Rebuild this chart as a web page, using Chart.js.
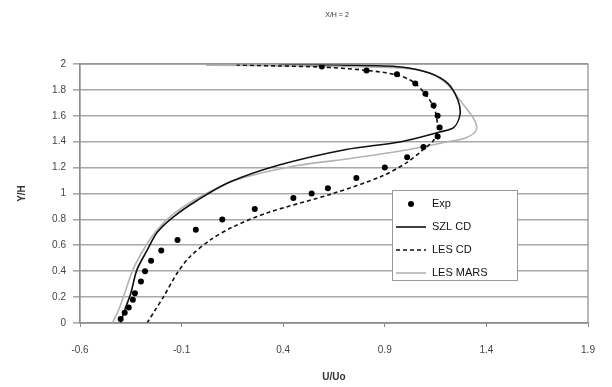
<!DOCTYPE html>
<html><head><meta charset="utf-8">
<script src="https://cdn.jsdelivr.net/npm/chart.js@4/dist/chart.umd.min.js"></script>
<style>html,body{margin:0;padding:0;background:#fff}#wrap{width:612px;height:387px}</style>
</head><body><div id="wrap"><canvas id="c" width="612" height="387"></canvas></div>
<script>
const chartTitle = "X/H = 2";
const xTitle = "U/Uo";
const yTitle = "Y/H";
const seriesNames = ["Exp", "SZL CD", "LES CD", "LES MARS"];

const expX = [-0.40,-0.38,-0.36,-0.34,-0.33,-0.30,-0.28,-0.25,-0.20,-0.12,-0.03,0.10,0.26,0.45,0.54,0.62,0.76,0.90,1.01,1.09,1.16,1.17,1.16,1.14,1.10,1.05,0.96,0.81,0.59];
const expY = [0.03,0.08,0.12,0.18,0.23,0.32,0.40,0.48,0.56,0.64,0.72,0.80,0.88,0.965,1.00,1.04,1.12,1.20,1.28,1.36,1.44,1.51,1.60,1.68,1.77,1.85,1.92,1.95,1.98];

const szlX = [-0.40,-0.38,-0.35,-0.32,-0.27,-0.22,-0.14,-0.02,0.14,0.38,0.71,0.98,1.17,1.24,1.27,1.26,1.21,1.12,0.98,0.68,0.38];
const szlY = [0.00,0.10,0.23,0.41,0.56,0.70,0.82,0.95,1.09,1.22,1.34,1.40,1.475,1.51,1.61,1.72,1.85,1.93,1.977,1.992,2.00];

const lescdX = [-0.27,-0.23,-0.19,-0.12,-0.06,0.04,0.15,0.32,0.645,0.88,1.01,1.09,1.14,1.16,1.14,1.05,0.96,0.79,0.58,0.38,0.17];
const lescdY = [0.00,0.10,0.20,0.39,0.51,0.64,0.74,0.85,1.00,1.13,1.24,1.34,1.41,1.49,1.67,1.85,1.915,1.954,1.977,1.985,1.992];

const marsX = [-0.44,-0.41,-0.38,-0.34,-0.29,-0.23,-0.15,-0.02,0.16,0.43,0.73,1.02,1.21,1.30,1.35,1.34,1.27,1.21,1.12,0.98,0.48,0.02];
const marsY = [0.00,0.10,0.23,0.41,0.56,0.70,0.83,0.965,1.10,1.205,1.27,1.34,1.40,1.43,1.49,1.57,1.72,1.84,1.93,1.97,1.985,1.99];

const xMin = -0.6, xMax = 1.9, xStep = 0.5;
const yMin = 0, yMax = 2, yStep = 0.2;

function pts(xs, ys){ return xs.map((x,i)=>({x:x, y:ys[i]})); }

const FONT = "'Liberation Sans', Arial, sans-serif";

const framePlugin = {
  id: 'frame',
  afterDraw(chart){
    const {ctx, chartArea:a} = chart;
    ctx.save();
    ctx.strokeStyle = '#8c8c8c';
    ctx.lineWidth = 1.2;
    ctx.strokeRect(a.left, a.top, a.right - a.left, a.bottom - a.top);
    // title
    ctx.fillStyle = '#333';
    ctx.font = "7px " + FONT;
    ctx.textAlign = 'center';
    ctx.textBaseline = 'middle';
    ctx.fillText(chartTitle, (a.left + a.right)/2 + 3, 15);
    // legend
    const lx = 392, ly = 190, lw = 125, lh = 90;
    ctx.fillStyle = '#fff';
    ctx.fillRect(lx, ly, lw, lh);
    ctx.strokeStyle = '#999';
    ctx.lineWidth = 1;
    ctx.strokeRect(lx + 0.5, ly + 0.5, lw, lh);
    const rows = [204, 227, 250, 273];
    chart.data.datasets.forEach((ds, i) => {
      const y = rows[i];
      ctx.save();
      if (ds.showLine === false) {
        ctx.fillStyle = '#000';
        ctx.beginPath(); ctx.arc(411, y, 3, 0, Math.PI*2); ctx.fill();
      } else {
        ctx.strokeStyle = ds.borderColor;
        ctx.lineWidth = ds.borderWidth;
        ctx.setLineDash(ds.borderDash || []);
        ctx.beginPath(); ctx.moveTo(396, y); ctx.lineTo(426, y); ctx.stroke();
      }
      ctx.restore();
      ctx.fillStyle = '#111';
      ctx.font = "11px " + FONT;
      ctx.textAlign = 'left';
      ctx.textBaseline = 'middle';
      ctx.fillText(ds.label, 432, y);
    });
    ctx.restore();
  }
};

new Chart(document.getElementById('c'), {
  type: 'scatter',
  data: {
    datasets: [
      { label: seriesNames[0], data: pts(expX, expY), showLine: false,
        pointRadius: 3, pointBackgroundColor: '#000', pointBorderColor: '#000', pointBorderWidth: 0 },
      { label: seriesNames[1], data: pts(szlX, szlY), showLine: true, borderColor: '#111',
        borderWidth: 1.6, pointRadius: 0, tension: 0.3, fill: false },
      { label: seriesNames[2], data: pts(lescdX, lescdY), showLine: true, borderColor: '#111',
        borderWidth: 1.6, borderDash: [4,3], pointRadius: 0, tension: 0.3, fill: false },
      { label: seriesNames[3], data: pts(marsX, marsY), showLine: true, borderColor: '#b3b3b3',
        borderWidth: 1.6, pointRadius: 0, tension: 0.3, fill: false }
    ]
  },
  options: {
    responsive: false,
    animation: false,
    devicePixelRatio: 1,
    layout: { padding: { top: 64, right: 24, left: 0, bottom: 0 } },
    plugins: { legend: { display: false }, tooltip: { enabled: false }, title: { display: false } },
    scales: {
      x: {
        type: 'linear', min: xMin, max: xMax,
        afterFit(s){ s.height = 64; },
        ticks: { stepSize: xStep, padding: 17, color: '#444', font: { family: FONT, size: 10 },
          callback: v => String(Math.round(v*10)/10) , maxRotation: 0},
        grid: { drawOnChartArea: false, drawTicks: true, tickLength: 4, color: '#8c8c8c' },
        border: { display: true, color: '#8c8c8c', width: 1.2 },
        title: { display: true, text: xTitle, color: '#333', font: { family: FONT, size: 10, weight: 'bold' },
          padding: { top: 0, bottom: 4 } }
      },
      y: {
        type: 'linear', min: yMin, max: yMax,
        afterFit(s){ s.width = 80; },
        ticks: { stepSize: yStep, padding: 7, color: '#444', font: { family: FONT, size: 10 },
          callback: v => String(Math.round(v*10)/10) },
        grid: { drawOnChartArea: true, drawTicks: true, tickLength: 7, color: '#a8a8a8', lineWidth: 1.6 },
        border: { display: true, color: '#8c8c8c', width: 1.2 },
        title: { display: true, text: yTitle, color: '#333', font: { family: FONT, size: 10, weight: 'bold' },
          padding: { top: 16, bottom: 0 } }
      }
    }
  },
  plugins: [framePlugin]
});
</script>
</body></html>
